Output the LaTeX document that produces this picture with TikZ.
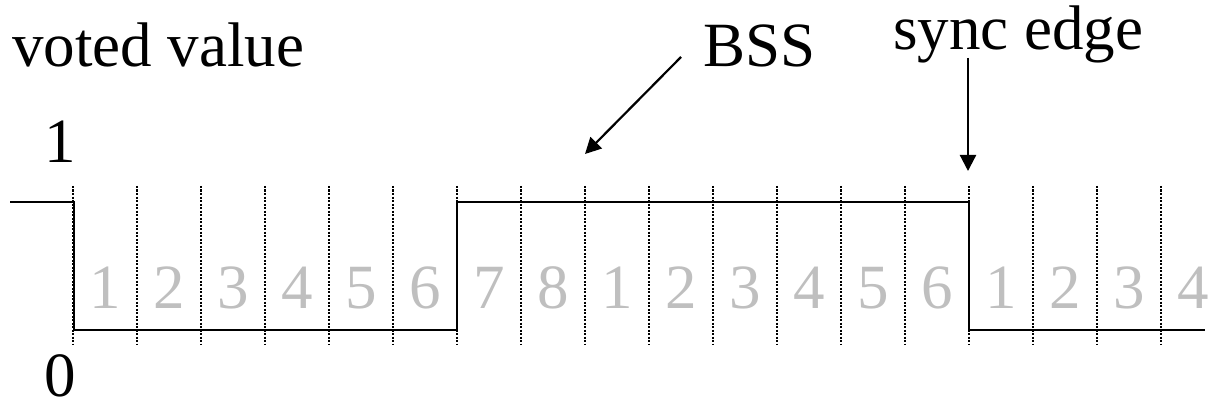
\documentclass[tikz,border=0pt]{standalone}
\usepackage{fontspec}
\setmainfont{Liberation Serif}
\usetikzlibrary{arrows.meta}

\begin{document}
\begin{tikzpicture}[
    x=1pt, y=-1pt,
    every node/.style={inner sep=0pt, font=\fontsize{63}{70}\selectfont},
    caption/.style={anchor=base west},
    level/.style={anchor=base},
    slot/.style={anchor=base, text=black!25},
    signal/.style={line width=2.2pt},
    tick/.style={line width=2.6pt, dash pattern=on 2.2pt off 1.3pt},
    pointer/.style={line width=2.2pt, -{Triangle[length=16pt,width=16pt]}}
]
\useasboundingbox (0,0) rectangle (1217,406);

% Captions
\node[caption] (voted) at (12,67) {voted value};
\node[caption] (bss) at (703,67) {BSS};
\node[caption] (sync) at (893,50) {sync edge};

% Levels
\node[level] (high) at (60,163) {1};
\node[level] (low) at (60,396) {0};

% Bit slot boundaries
\foreach \i in {0,...,17}
    \draw[tick] ({73+64*\i},186) -- ({73+64*\i},345);

% Slot numbers
\foreach \n [count=\i] in {1,2,3,4,5,6,7,8,1,2,3,4,5,6,1,2,3,4}
    \node[slot] (slot\i) at ({41+64*\i},308) {\n};

% Voted signal
\draw[signal] (10,202) -- (74,202) -- (74,330) -- (457,330)
    -- (457,202) -- (969,202) -- (969,330) -- (1205,330);

% Pointers
\coordinate (bss tail) at (681,57);
\coordinate (bss tip) at (585,154);
\coordinate (sync tail) at (968,58);
\coordinate (sync tip) at (968,171);
\draw[pointer] (bss tail) -- (bss tip);
\draw[pointer] (sync tail) -- (sync tip);
\end{tikzpicture}
\end{document}
